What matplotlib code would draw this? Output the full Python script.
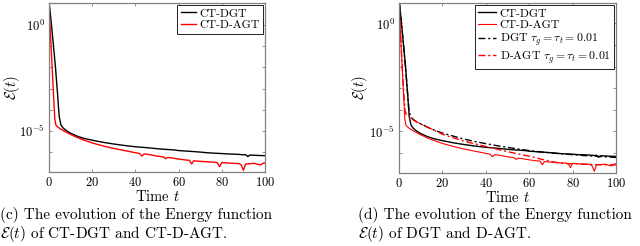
import numpy as np
import matplotlib
matplotlib.use("Agg")
import matplotlib.pyplot as plt
from matplotlib.ticker import FixedLocator, NullFormatter

plt.rcParams['font.family'] = 'cmr10'
plt.rcParams['mathtext.fontset'] = 'cm'
plt.rcParams['axes.formatter.use_mathtext'] = True

# log10 of E(t)
t_ct_dgt = [0, 0.3, 1, 2, 3, 4, 4.7, 5.5, 6.5, 8, 10, 13, 16, 20, 25, 30, 35, 40, 45, 50,
            52, 55, 58, 60, 63, 66, 70, 73, 76, 80, 83, 86, 88, 90, 91, 92, 93, 95, 97, 100]
e_ct_dgt = [1.02, 0.85, 0.15, -0.9, -2.0, -3.3, -4.3, -4.7, -4.85, -4.98, -5.1, -5.24, -5.34,
            -5.43, -5.53, -5.61, -5.68, -5.74, -5.78, -5.83, -5.85, -5.87, -5.89, -5.92, -5.94,
            -5.96, -5.99, -6.02, -6.04, -6.06, -6.08, -6.09, -6.1, -6.12, -6.11, -6.2, -6.13,
            -6.14, -6.15, -6.16]

t_ct_dagt = [0, 0.3, 0.8, 1.5, 2.2, 2.7, 3.2, 4, 5, 7, 10, 13, 16, 20, 25, 30, 35, 38, 40, 42,
             43, 44, 46, 50, 53, 54, 55, 57, 60, 63, 65, 66, 67, 69, 72, 75, 77, 78, 79, 80,
             82, 85, 88, 89, 90, 91, 93, 95, 97, 98, 99, 100]
e_ct_dagt = [0.86, 0.3, -0.7, -2.1, -3.5, -4.45, -4.72, -4.8, -4.88, -5.0, -5.16, -5.3, -5.42,
             -5.56, -5.7, -5.82, -5.92, -5.98, -6.02, -6.06, -6.18, -6.08, -6.1, -6.18, -6.22,
             -6.3, -6.24, -6.27, -6.32, -6.36, -6.38, -6.55, -6.4, -6.42, -6.44, -6.46, -6.47,
             -6.5, -6.68, -6.48, -6.5, -6.52, -6.53, -6.6, -6.85, -6.55, -6.54, -6.52, -6.58,
             -6.6, -6.52, -6.5]

t_dgt = [0, 0.3, 1, 2, 3, 4, 4.6, 5.3, 6, 7, 8, 10, 13, 16, 20, 25, 30, 35, 40, 45, 50, 55,
         60, 65, 70, 75, 80, 85, 90, 95, 100]
e_dgt = [1.0, 0.85, 0.15, -0.9, -2.0, -3.3, -4.05, -4.3, -4.4, -4.48, -4.55, -4.65, -4.8,
         -4.93, -5.08, -5.22, -5.36, -5.47, -5.57, -5.66, -5.74, -5.82, -5.89, -5.95, -6.0,
         -6.04, -6.08, -6.12, -6.15, -6.18, -6.21]

t_dagt = [0, 0.3, 0.8, 1.5, 2.2, 2.8, 3.3, 4, 5, 7, 10, 13, 16, 20, 25, 30, 35, 40, 45, 50,
          55, 60, 63, 65, 68, 70, 73, 75, 78, 80, 85, 90, 95, 100]
e_dagt = [0.8, 0.3, -0.7, -2.0, -3.2, -4.05, -4.2, -4.28, -4.36, -4.5, -4.66, -4.8, -4.94,
          -5.13, -5.3, -5.45, -5.58, -5.7, -5.82, -5.94, -6.05, -6.15, -6.22, -6.28, -6.34,
          -6.4, -6.45, -6.48, -6.5, -6.5, -6.52, -6.54, -6.55, -6.56]

xticks = [0, 20, 40, 60, 80, 100]
captions = [r"(c) The evolution of the Energy function" "\n"
            r"$\mathcal{E}(t)$ of CT-DGT and CT-D-AGT.",
            r"(d) The evolution of the Energy function" "\n"
            r"$\mathcal{E}(t)$ of DGT and D-AGT."]

dashdot = (0, (5, 2, 1.5, 2))
spine_col = '#808080'

fig = plt.figure(figsize=(6.4, 2.46), dpi=100)
ax1 = fig.add_axes([49/640, 74/246, 216/640, 169/246])
ax2 = fig.add_axes([399/640, 73/246, 217/640, 170/246])


def style(ax, ylo, yhi, ylab_x):
    ax.set_yscale('log')
    ax.set_xlim(0, 100)
    ax.set_ylim(10**ylo, 10**yhi)
    ax.set_xticks(xticks)
    ax.yaxis.set_major_locator(FixedLocator([1e-5, 1e0]))
    ax.yaxis.set_minor_locator(FixedLocator([1e-6, 1e-4, 1e-3, 1e-2, 1e-1]))
    ax.yaxis.set_minor_formatter(NullFormatter())
    ax.set_yticklabels([r'$10^{-5}$', r'$10^{0}$'])
    ax.tick_params(which='both', direction='in', top=True, right=True, length=2.5,
                   width=0.6, color=spine_col, labelsize=9, pad=3)
    for s in ax.spines.values():
        s.set_color(spine_col)
        s.set_linewidth(0.9)
    ax.set_xlabel(r'Time $t$', fontsize=10.5, labelpad=0)
    ax.set_ylabel(r'$\mathcal{E}(t)$', fontsize=10.5)
    ax.yaxis.set_label_coords(ylab_x, 0.5)


ax1.plot(t_ct_dgt, 10**np.array(e_ct_dgt), color='black', lw=1.0, label='CT-DGT')
ax1.plot(t_ct_dagt, 10**np.array(e_ct_dagt), color='red', lw=1.0, label='CT-D-AGT')
style(ax1, -6.93, 1.04, -0.125)
leg = ax1.legend(loc='upper right', fontsize=8.5, handlelength=1.3, handletextpad=0.3,
                 borderaxespad=0.15, borderpad=0.3, labelspacing=0.1, fancybox=False,
                 framealpha=1)
leg.get_frame().set_edgecolor('black')
leg.get_frame().set_linewidth(0.6)

ax2.plot(t_ct_dgt, 10**np.array(e_ct_dgt), color='black', lw=1.0, label='CT-DGT')
ax2.plot(t_ct_dagt, 10**np.array(e_ct_dagt), color='red', lw=0.8, label='CT-D-AGT')
ax2.plot(t_dgt, 10**np.array(e_dgt), color='black', lw=1.0, ls=dashdot,
         label=r'DGT $\tau_g=\tau_t=0.01$')
ax2.plot(t_dagt, 10**np.array(e_dagt), color='red', lw=1.0, ls=dashdot,
         label=r'D-AGT $\tau_g=\tau_t=0.01$')
style(ax2, -6.93, 0.95, -0.134)
leg = ax2.legend(loc='upper right', fontsize=8.5, handlelength=1.5, handletextpad=0.3,
                 borderaxespad=0.15, borderpad=0.3, labelspacing=0.1, fancybox=False,
                 framealpha=1)
leg.get_frame().set_edgecolor('black')
leg.get_frame().set_linewidth(0.6)

fig.text(0.0, 2/246, captions[0], fontsize=11, va='bottom', ha='left', linespacing=1.05)
fig.text(358/640, 2/246, captions[1], fontsize=11, va='bottom', ha='left', linespacing=1.05)

fig.savefig('out.png', dpi=100)
